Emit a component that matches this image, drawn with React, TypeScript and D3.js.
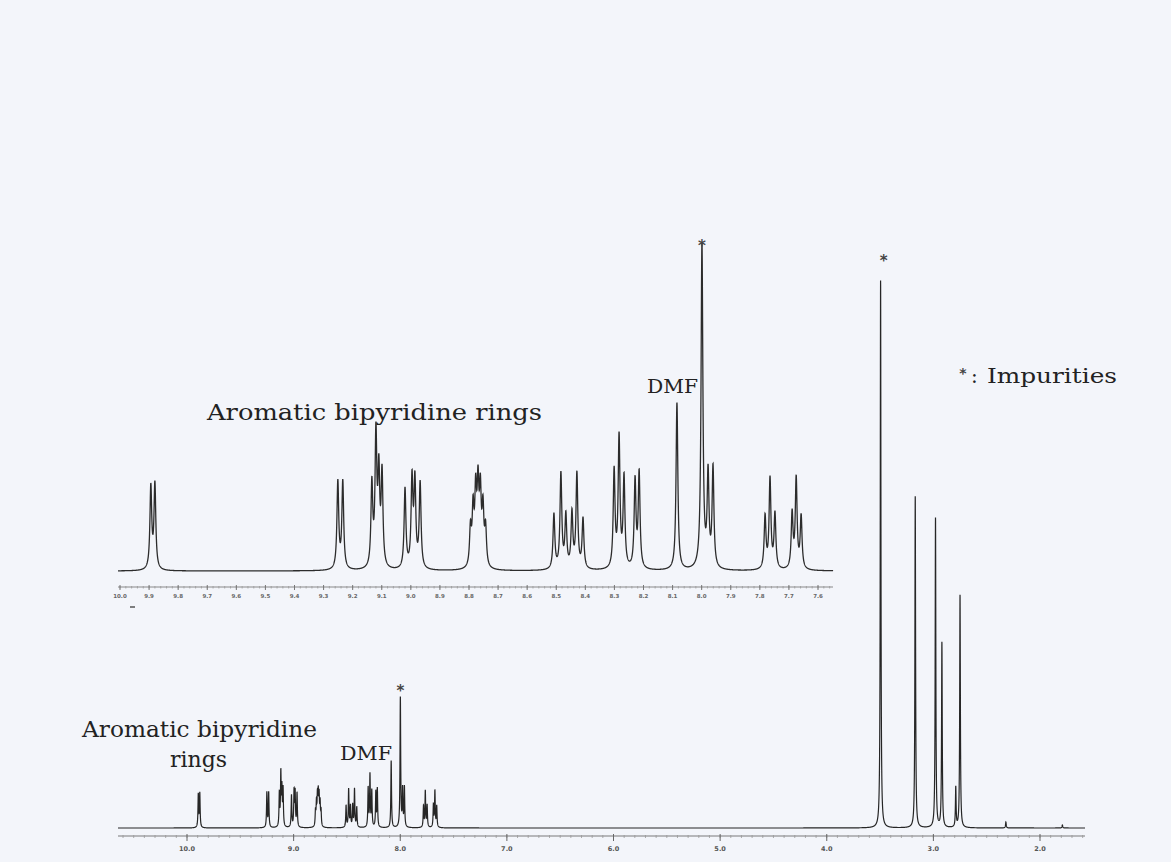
import React from "react";
import * as d3 from "d3";

const W = 1171;
const H = 862;

// Aromatic region peaks: chemical shift (ppm) and intensity (main-spectrum units)
const aromaticPpm = [
  9.894, 9.88,
  9.251, 9.234,
  9.134, 9.12, 9.11, 9.099,
  9.02, 8.996, 8.986, 8.968,
  8.795, 8.786, 8.777, 8.769, 8.761, 8.752, 8.743,
  8.508, 8.484, 8.467, 8.446, 8.429, 8.408,
  8.301, 8.284, 8.267,
  8.229, 8.215,
  8.085,
  7.999,
  7.978, 7.961,
  7.782, 7.765, 7.748,
  7.689, 7.675, 7.658,
];
const aromaticInt = [
  33, 34,
  35, 35,
  33, 52, 36, 37,
  32, 35, 34, 34,
  15, 22, 28, 30, 28, 22, 15,
  22, 38, 21, 22, 38, 20,
  39, 52, 36,
  35, 38,
  67,
  130,
  37, 40,
  21, 36, 22,
  22, 36, 21,
];

// Aliphatic region peaks (main spectrum only)
const aliphaticPpm = [3.495, 3.17, 2.98, 2.92, 2.79, 2.75, 2.32, 1.79];
const aliphaticInt = [548, 332, 310, 185, 40, 233, 6, 3];

// Axis ticks
const mainTickValues = [10, 9, 8, 7, 6, 5, 4, 3, 2];
const mainTickLabels = ["10.0", "9.0", "8.0", "7.0", "6.0", "5.0", "4.0", "3.0", "2.0"];
const insetTickValues = [
  10.0, 9.9, 9.8, 9.7, 9.6, 9.5, 9.4, 9.3, 9.2, 9.1, 9.0, 8.9, 8.8,
  8.7, 8.6, 8.5, 8.4, 8.3, 8.2, 8.1, 8.0, 7.9, 7.8, 7.7, 7.6,
];
const insetTickLabels = [
  "10.0", "9.9", "9.8", "9.7", "9.6", "9.5", "9.4", "9.3", "9.2", "9.1", "9.0", "8.9", "8.8",
  "8.7", "8.6", "8.5", "8.4", "8.3", "8.2", "8.1", "8.0", "7.9", "7.8", "7.7", "7.6",
];

const HWHM = 0.0037;

type Pk = { p: number; h: number };
const aromaticPeaks: Pk[] = aromaticPpm.map((p, i) => ({ p, h: aromaticInt[i] }));
const aliphaticPeaks: Pk[] = aliphaticPpm.map((p, i) => ({ p, h: aliphaticInt[i] }));

function intensity(ppm: number, peaks: Pk[]): number {
  let s = 0;
  for (const pk of peaks) {
    const d = (ppm - pk.p) / HWHM;
    s += pk.h / (1 + d * d);
  }
  return s;
}

function sample(from: number, to: number, step: number, peaks: Pk[]): [number, number][] {
  const out: [number, number][] = [];
  const n = Math.ceil((from - to) / step);
  for (let i = 0; i <= n; i++) {
    const ppm = from - i * step;
    out.push([ppm, intensity(ppm, peaks)]);
  }
  return out;
}

const serif = "'DejaVu Serif', 'Liberation Serif', serif";

export default function App() {
  // main spectrum scales
  const xMain = d3.scaleLinear().domain([10, 2]).range([187, 1040]);
  const yMain = d3.scaleLinear().domain([0, 550]).range([828, 278]);
  // inset scales
  const xIn = d3.scaleLinear().domain([10.0, 7.6]).range([120, 818]);
  const yIn = d3.scaleLinear().domain([0, 128.4]).range([571, 250]);

  const allPeaks = aromaticPeaks.concat(aliphaticPeaks);
  const mainData = sample(xMain.invert(118), xMain.invert(1085), 0.0005, allPeaks);
  const inData = sample(xIn.invert(118), xIn.invert(833), 0.0004, aromaticPeaks);

  const mainLine = d3
    .line<[number, number]>()
    .x((d) => xMain(d[0]))
    .y((d) => yMain(d[1]));
  const inLine = d3
    .line<[number, number]>()
    .x((d) => xIn(d[0]))
    .y((d) => yIn(d[1]));

  const mainMinor = d3.range(0, 91).map((i) => 10.6 - i * 0.1).filter((v) => xMain(v) >= 118 && xMain(v) <= 1085);
  const inMinor = d3.range(0, 125).map((i) => 10.0 - i * 0.02).filter((v) => xIn(v) >= 118 && xIn(v) <= 833);

  const starMain = aliphaticPeaks[0];
  const starArom = aromaticPeaks[31];

  return (
    <svg
      width={W}
      height={H}
      style={{ position: "absolute", left: 0, top: 0, display: "block" }}
    >
      <rect x={0} y={0} width={W} height={H} fill="#f3f5fa" />

      {/* ---------- inset spectrum ---------- */}
      <path d={inLine(inData) || ""} fill="none" stroke="#2c2c2c" strokeWidth={1.3} />
      <line x1={118} x2={833} y1={587} y2={587} stroke="#8a8a8a" strokeWidth={1.2} />
      {inMinor.map((v, i) => (
        <line key={"im" + i} x1={xIn(v)} x2={xIn(v)} y1={586} y2={588.5} stroke="#9a9a9a" strokeWidth={0.8} />
      ))}
      {insetTickValues.map((v, i) => (
        <g key={"it" + i}>
          <line x1={xIn(v)} x2={xIn(v)} y1={585} y2={590} stroke="#777" strokeWidth={1} />
          <text
            x={xIn(v)}
            y={598}
            textAnchor="middle"
            fontFamily="'DejaVu Sans', sans-serif"
            fontWeight="bold"
            fontSize={5.5}
            fill="#666"
          >
            {insetTickLabels[i]}
          </text>
        </g>
      ))}
      <line x1={130} x2={135} y1={607} y2={607} stroke="#555" strokeWidth={1.5} />

      <text x={207} y={420} fontFamily={serif} fontSize={23} fill="#222" textLength={335} lengthAdjust="spacingAndGlyphs">
        Aromatic bipyridine rings
      </text>
      <text x={647} y={393} fontFamily={serif} fontSize={18} fill="#222" textLength={51} lengthAdjust="spacingAndGlyphs">
        DMF
      </text>
      <text
        x={xIn(starArom.p)}
        y={251}
        textAnchor="middle"
        fontFamily="'DejaVu Sans', sans-serif"
        fontWeight="bold"
        fontSize={15}
        fill="#444"
      >
        *
      </text>

      {/* ---------- main spectrum ---------- */}
      <path d={mainLine(mainData) || ""} fill="none" stroke="#262626" strokeWidth={1.2} />
      <line x1={118} x2={1085} y1={836} y2={836} stroke="#7a7a7a" strokeWidth={1.2} />
      {mainMinor.map((v, i) => (
        <line key={"mm" + i} x1={xMain(v)} x2={xMain(v)} y1={835} y2={838} stroke="#999" strokeWidth={0.8} />
      ))}
      {mainTickValues.map((v, i) => (
        <g key={"mt" + i}>
          <line x1={xMain(v)} x2={xMain(v)} y1={834} y2={841} stroke="#666" strokeWidth={1} />
          <text
            x={xMain(v)}
            y={851}
            textAnchor="middle"
            fontFamily="'DejaVu Sans', sans-serif"
            fontWeight="bold"
            fontSize={6.5}
            fill="#555"
          >
            {mainTickLabels[i]}
          </text>
        </g>
      ))}

      <text x={82} y={737} fontFamily={serif} fontSize={22} fill="#222" textLength={235} lengthAdjust="spacingAndGlyphs">
        Aromatic bipyridine
      </text>
      <text x={170} y={767} fontFamily={serif} fontSize={22} fill="#222" textLength={57} lengthAdjust="spacingAndGlyphs">
        rings
      </text>
      <text x={340} y={760} fontFamily={serif} fontSize={18} fill="#222" textLength={52} lengthAdjust="spacingAndGlyphs">
        DMF
      </text>
      <text
        x={xMain(starArom.p)}
        y={696}
        textAnchor="middle"
        fontFamily="'DejaVu Sans', sans-serif"
        fontWeight="bold"
        fontSize={15}
        fill="#444"
      >
        *
      </text>
      <text
        x={xMain(starMain.p) + 3}
        y={266}
        textAnchor="middle"
        fontFamily="'DejaVu Sans', sans-serif"
        fontWeight="bold"
        fontSize={15}
        fill="#444"
      >
        *
      </text>

      {/* legend */}
      <text x={963} y={378} textAnchor="middle" fontFamily="'DejaVu Sans', sans-serif" fontWeight="bold" fontSize={14} fill="#444">
        *
      </text>
      <text x={971} y={383} fontFamily={serif} fontSize={20} fill="#222">
        :
      </text>
      <text x={987} y={383} fontFamily={serif} fontSize={21} fill="#222" textLength={130} lengthAdjust="spacingAndGlyphs">
        Impurities
      </text>
    </svg>
  );
}
